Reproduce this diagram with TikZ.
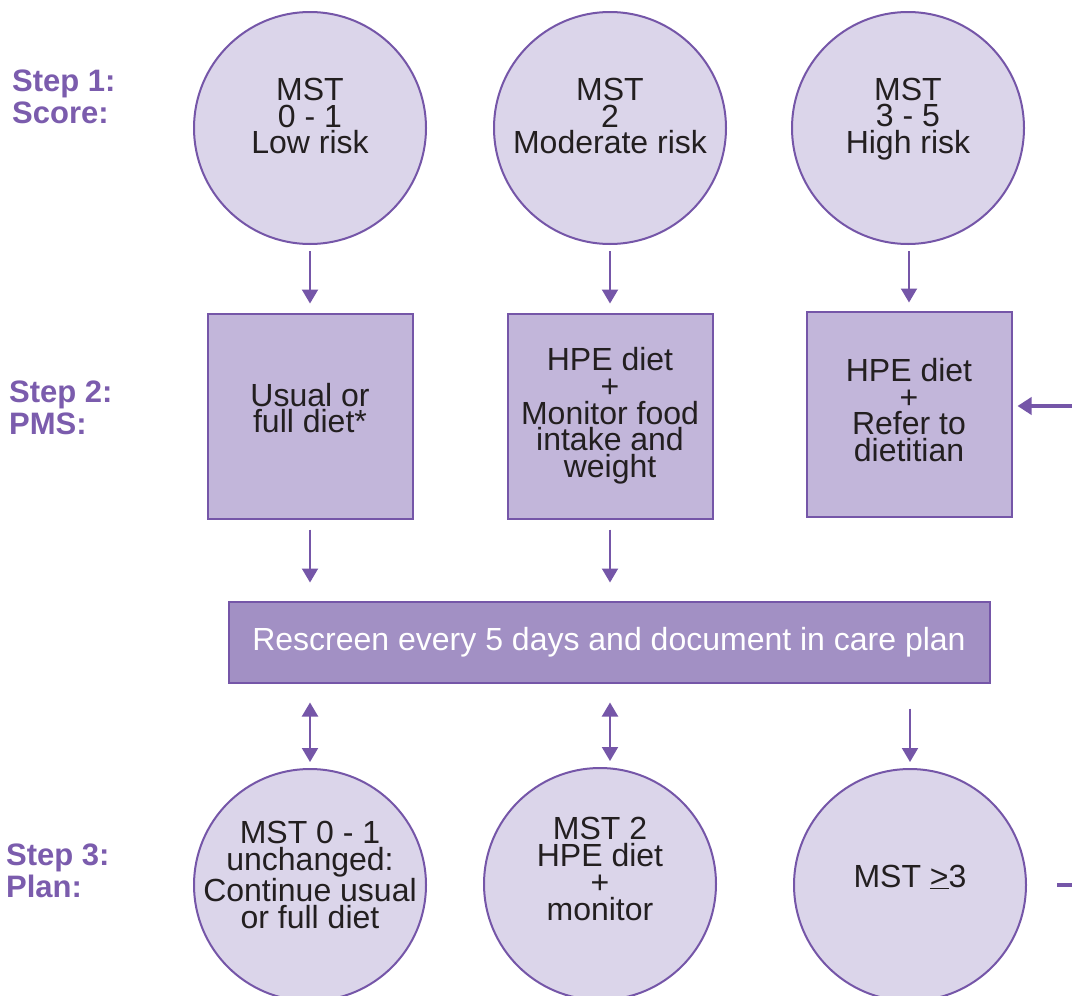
\documentclass[tikz,border=0pt]{standalone}
\usepackage{fontspec}
\setmainfont{Liberation Sans}
\usetikzlibrary{arrows.meta}
\definecolor{strokec}{HTML}{7556A8}
\definecolor{circfill}{HTML}{DBD5EA}
\definecolor{boxfill}{HTML}{C2B6DA}
\definecolor{barfill}{HTML}{A290C4}
\definecolor{textdark}{HTML}{231F20}
\definecolor{steptext}{HTML}{7B5CAD}
\begin{document}
\begin{tikzpicture}[x=1pt,y=-1pt,
  circ/.style={circle,draw=strokec,line width=2pt,fill=circfill,minimum size=232pt,inner sep=0pt},
  boxn/.style={rectangle,draw=strokec,line width=2pt,fill=boxfill,minimum width=205pt,minimum height=205pt,inner sep=0pt},
  barn/.style={rectangle,draw=strokec,line width=2pt,fill=barfill,minimum width=761pt,minimum height=81pt,inner sep=0pt,text=white,font=\fontsize{32}{26.7}\selectfont},
  txt/.style={font=\fontsize{32}{26.7}\selectfont,align=center,text=textdark,inner sep=0pt},
  steplbl/.style={font=\fontsize{31}{32}\selectfont\bfseries,text=steptext,align=left,anchor=west,inner sep=0pt},
  conn/.style={draw=strokec,line width=2pt,-{Triangle[width=16pt,length=14pt]}},
  dconn/.style={draw=strokec,line width=2pt,{Triangle[width=16pt,length=14pt]}-{Triangle[width=16pt,length=14pt]}},
  thickconn/.style={draw=strokec,line width=4pt,-{Triangle[width=17pt,length=14pt]}},
  thickline/.style={draw=strokec,line width=4pt},
]
\clip (0,0) rectangle (1072,996);
\fill[white] (0,0) rectangle (1072,996);

% step labels
\node[steplbl] (s1) at (12,97) {Step 1:\\Score:};
\node[steplbl] (s2) at (9,408) {Step 2:\\PMS:};
\node[steplbl] (s3) at (6,871) {Step 3:\\Plan:};

% top circles
\node[circ,label={[txt,yshift=12pt]center:{MST\\0 - 1\\Low risk}}] (c1) at (310,128) {};
\node[circ,label={[txt,yshift=12pt]center:{MST\\2\\Moderate risk}}] (c2) at (610,128) {};
\node[circ,label={[txt,yshift=9pt]center:{MST\\3 - 5\\High risk}}] (c3) at (908,128) {};

% boxes
\node[boxn,label={[txt,yshift=8pt]center:{Usual or\\full diet*}}] (b1) at (310,416) {};
\node[boxn,label={[txt,yshift=0pt]center:{HPE diet\\+\\Monitor food\\intake and\\weight}}] (b2) at (610,416) {};
\node[boxn,label={[txt,yshift=4pt]center:{HPE diet\\+\\Refer to\\dietitian}}] (b3) at (909,414) {};

% bar
\node[barn] (bar) at (609,642) {Rescreen every 5 days and document in care plan};

% bottom circles
\node[circ,label={[txt,yshift=10pt]center:{MST 0 - 1\\unchanged:\\Continue usual\\or full diet}}] (c4) at (310,885) {};
\node[circ,label={[txt,yshift=15pt]center:{MST 2\\HPE diet\\+\\monitor}}] (c5) at (600,884) {};
\node[circ,label={[txt,yshift=8pt]center:{MST \underline{>}3}}] (c6) at (910,885) {};

% connectors
\draw[conn,shorten <=6pt,shorten >=9pt] (c1.south) -- (b1.north);
\draw[conn,shorten <=6pt,shorten >=9pt] (c2.south) -- (b2.north);
\draw[conn,shorten <=6pt,shorten >=8pt] (c3.south -| b3) -- (b3.north);

\draw[conn,shorten <=10pt,shorten >=18pt] (b1.south) -- (b1.south |- bar.north);
\draw[conn,shorten <=10pt,shorten >=18pt] (b2.south) -- (b2.south |- bar.north);

\draw[dconn,shorten <=19pt,shorten >=6pt] (bar.south -| c4) -- (c4.north);
\draw[dconn,shorten <=19pt,shorten >=6pt] (bar.south -| b2) -- (c5.north -| b2);
\draw[conn,shorten <=25pt,shorten >=6pt] (bar.south -| c6) -- (c6.north);

\coordinate (rin) at (1085,406);
\draw[thickconn,shorten >=5pt] (rin) -- (b3.east |- rin);
\coordinate (rout) at (1085,885);
\draw[thickline,shorten <=30pt] (c6.east) -- (rout);
\end{tikzpicture}
\end{document}
